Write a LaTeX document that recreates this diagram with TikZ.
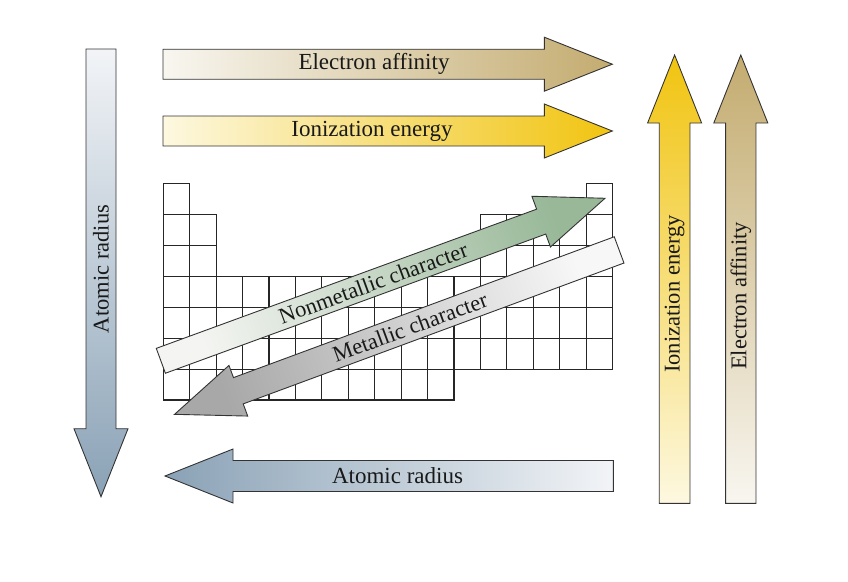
\documentclass[tikz,border=0pt]{standalone}
\usepackage{fontspec}
\setmainfont{Liberation Serif}
\definecolor{eaTip}{RGB}{196,172,112}
\definecolor{eaTail}{RGB}{248,246,240}
\definecolor{ieTip}{RGB}{241,196,16}
\definecolor{ieTail}{RGB}{253,248,224}
\definecolor{arTip}{RGB}{138,162,182}
\definecolor{arTail}{RGB}{242,244,247}
\definecolor{nmTip}{RGB}{152,184,152}
\definecolor{nmTail}{RGB}{244,245,242}
\definecolor{mtTip}{RGB}{168,168,168}
\definecolor{mtTail}{RGB}{247,247,247}
% #1,#2 tail point; #3 direction (deg, ccw); #4 length; #5 shaft width; #6 tail colour; #7 tip colour
\newcommand{\fatarrow}[7]{%
  \begin{scope}[shift={(#1,#2)},rotate=#3]
    \shade[arrowline,bottom color=#6,top color=#7,shading angle={#3-90}]
      (0,-#5/2) -- (#4-68,-#5/2) -- (#4-68,-27) -- (#4,0) --
      (#4-68,27) -- (#4-68,#5/2) -- (0,#5/2) -- cycle;
  \end{scope}}
\begin{document}
\begin{tikzpicture}[x=1pt,y=-1pt,
  arrowline/.style={draw=black!80,line width=0.9pt,line join=miter},
  cell/.style={draw=black!85,line width=1.1pt},
  lbl/.style={font=\fontsize{22.5}{27}\selectfont,inner sep=0pt,text=black!90},
  lblh/.style={lbl,font=\fontsize{23}{27}\selectfont}]
\useasboundingbox (0,0) rectangle (848,581);
% periodic table grid
\def\cw{26.43}\def\rh{30.96}\def\gx{163.3}\def\gy{183.3}
\newcommand{\cellrow}[3]{%
  \foreach \c in {#2,...,#3}{%
    \draw[cell] ({\gx+(\c-1)*\cw},{\gy+(#1-1)*\rh}) rectangle ++(\cw,\rh);}}
\cellrow{1}{1}{1}\cellrow{1}{17}{17}
\cellrow{2}{1}{2}\cellrow{2}{13}{17}
\cellrow{3}{1}{2}\cellrow{3}{13}{17}
\cellrow{4}{1}{17}\cellrow{5}{1}{17}\cellrow{6}{1}{17}
\cellrow{7}{1}{11}
% horizontal arrows
\fatarrow{163}{64.2}{0}{449.3}{30}{eaTail}{eaTip}
\node[lblh] (ea) at (374,64.2) {Electron affinity};
\fatarrow{163}{131}{0}{449.3}{30}{ieTail}{ieTip}
\node[lblh] (ie) at (372,131) {Ionization energy};
\fatarrow{613.3}{476}{180}{448.3}{31}{arTail}{arTip}
\node[lblh] (ar) at (397.5,476) {Atomic radius};
% vertical arrows
\fatarrow{101}{49}{-90}{447.7}{30}{arTail}{arTip}
\node[lbl,rotate=90] (arv) at (101,269) {Atomic radius};
\fatarrow{674.6}{503.3}{90}{448.3}{30.7}{ieTail}{ieTip}
\node[lbl,rotate=90] (iev) at (674.6,294) {Ionization energy};
\fatarrow{740.8}{503.3}{90}{448.3}{30.3}{eaTail}{eaTip}
\node[lbl,rotate=90] (eav) at (740.8,296) {Electron affinity};
% diagonal arrows
\fatarrow{160.85}{360.8}{20.1}{473}{26.5}{nmTail}{nmTip}
\node[lbl,rotate=20.1] (nm) at (373.1,283.1) {Nonmetallic character};
\fatarrow{619.1}{249.9}{200.3}{474}{28}{mtTail}{mtTip}
\node[lbl,rotate=20.3] (mt) at (410,327.3) {Metallic character};
\end{tikzpicture}
\end{document}
